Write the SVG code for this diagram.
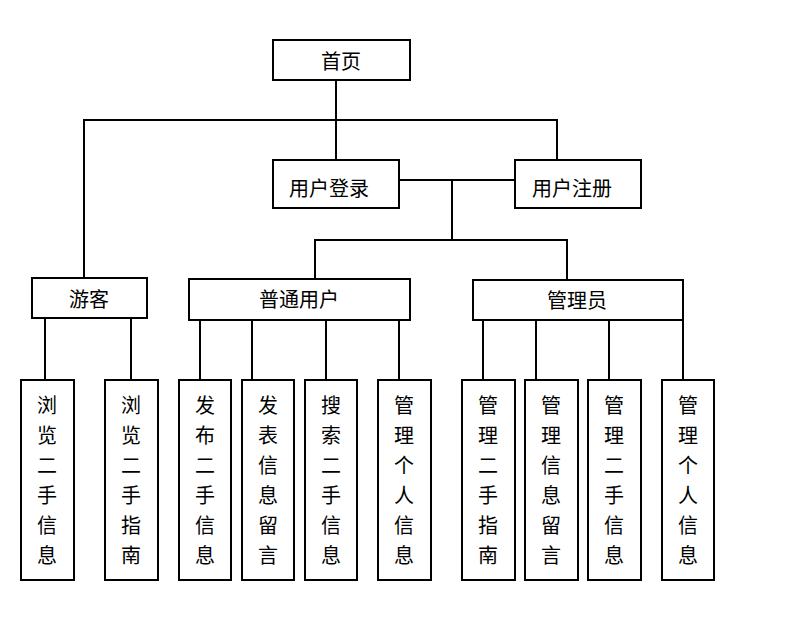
<svg xmlns="http://www.w3.org/2000/svg" width="798" height="640" viewBox="0 0 798 640">
<style>
rect{fill:#fff;stroke:#000;stroke-width:2}
.c line{stroke:#000;stroke-width:2;stroke-linecap:square}
text{font-family:"Liberation Serif","Noto Sans CJK SC",serif;font-size:20px;fill:#000;text-anchor:middle}
</style>
<rect x="-1" y="-1" width="800" height="642" style="stroke:none"/>
<g class="c" id="connectors">
<line x1="336" y1="80" x2="336" y2="160"/>
<line x1="84" y1="120" x2="557" y2="120"/>
<line x1="84" y1="120" x2="84" y2="278"/>
<line x1="557" y1="120" x2="557" y2="160"/>
<line x1="399" y1="180" x2="515" y2="180"/>
<line x1="452" y1="180" x2="452" y2="240"/>
<line x1="315" y1="240" x2="567" y2="240"/>
<line x1="315" y1="240" x2="315" y2="279"/>
<line x1="567" y1="240" x2="567" y2="280"/>
<line x1="45" y1="318" x2="45" y2="380"/>
<line x1="131" y1="318" x2="131" y2="380"/>
<line x1="200" y1="320" x2="200" y2="380"/>
<line x1="252" y1="320" x2="252" y2="380"/>
<line x1="326" y1="320" x2="326" y2="380"/>
<line x1="399" y1="320" x2="399" y2="380"/>
<line x1="483" y1="320" x2="483" y2="380"/>
<line x1="536" y1="320" x2="536" y2="380"/>
<line x1="609" y1="320" x2="609" y2="380"/>
<line x1="683" y1="320" x2="683" y2="380"/>
</g>
<g id="n-home"><rect x="273" y="40" width="137" height="40"/><text x="341" y="69">首页</text></g>
<g id="n-login"><rect x="273" y="160" width="126" height="48"/><text x="329" y="195.5">用户登录</text></g>
<g id="n-register"><rect x="515" y="160" width="126" height="48"/><text x="572" y="195.5">用户注册</text></g>
<g id="n-guest"><rect x="32" y="278" width="115" height="40"/><text x="89" y="307">游客</text></g>
<g id="n-user"><rect x="189" y="279" width="221" height="41"/><text x="299" y="307">普通用户</text></g>
<g id="n-admin"><rect x="473" y="280" width="210" height="40"/><text x="577" y="307.5">管理员</text></g>
<g id="n-b1"><rect x="21" y="380" width="53" height="200"/><text x="47" y="412.6">浏</text><text x="47" y="442.6">览</text><text x="47" y="472.6">二</text><text x="47" y="502.6">手</text><text x="47" y="532.6">信</text><text x="47" y="562.6">息</text></g>
<g id="n-b2"><rect x="105" y="380" width="53" height="200"/><text x="131" y="412.6">浏</text><text x="131" y="442.6">览</text><text x="131" y="472.6">二</text><text x="131" y="502.6">手</text><text x="131" y="532.6">指</text><text x="131" y="562.6">南</text></g>
<g id="n-b3"><rect x="179" y="380" width="52" height="200"/><text x="205" y="412.6">发</text><text x="205" y="442.6">布</text><text x="205" y="472.6">二</text><text x="205" y="502.6">手</text><text x="205" y="532.6">信</text><text x="205" y="562.6">息</text></g>
<g id="n-b4"><rect x="242" y="380" width="52" height="200"/><text x="268" y="412.6">发</text><text x="268" y="442.6">表</text><text x="268" y="472.6">信</text><text x="268" y="502.6">息</text><text x="268" y="532.6">留</text><text x="268" y="562.6">言</text></g>
<g id="n-b5"><rect x="305" y="380" width="52" height="200"/><text x="331" y="412.6">搜</text><text x="331" y="442.6">索</text><text x="331" y="472.6">二</text><text x="331" y="502.6">手</text><text x="331" y="532.6">信</text><text x="331" y="562.6">息</text></g>
<g id="n-b6"><rect x="378" y="380" width="53" height="200"/><text x="404" y="412.6">管</text><text x="404" y="442.6">理</text><text x="404" y="472.6">个</text><text x="404" y="502.6">人</text><text x="404" y="532.6">信</text><text x="404" y="562.6">息</text></g>
<g id="n-b7"><rect x="462" y="380" width="53" height="200"/><text x="488" y="412.6">管</text><text x="488" y="442.6">理</text><text x="488" y="472.6">二</text><text x="488" y="502.6">手</text><text x="488" y="532.6">指</text><text x="488" y="562.6">南</text></g>
<g id="n-b8"><rect x="525" y="380" width="53" height="200"/><text x="551" y="412.6">管</text><text x="551" y="442.6">理</text><text x="551" y="472.6">信</text><text x="551" y="502.6">息</text><text x="551" y="532.6">留</text><text x="551" y="562.6">言</text></g>
<g id="n-b9"><rect x="588" y="380" width="53" height="200"/><text x="614" y="412.6">管</text><text x="614" y="442.6">理</text><text x="614" y="472.6">二</text><text x="614" y="502.6">手</text><text x="614" y="532.6">信</text><text x="614" y="562.6">息</text></g>
<g id="n-b10"><rect x="662" y="380" width="52" height="200"/><text x="688" y="412.6">管</text><text x="688" y="442.6">理</text><text x="688" y="472.6">个</text><text x="688" y="502.6">人</text><text x="688" y="532.6">信</text><text x="688" y="562.6">息</text></g>
</svg>
